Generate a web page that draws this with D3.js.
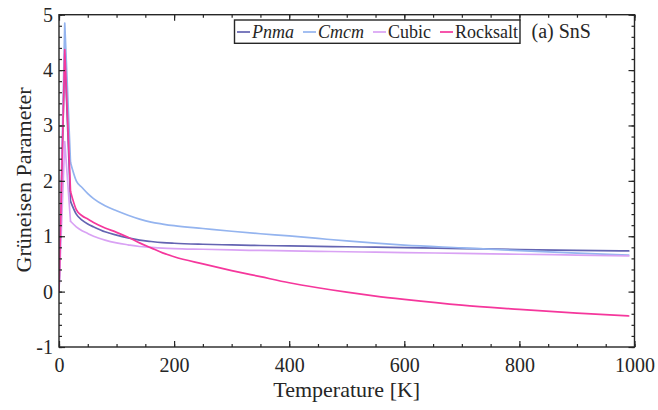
<!DOCTYPE html>
<html>
<head>
<meta charset="utf-8">
<script src="https://cdn.jsdelivr.net/npm/d3@7"></script>
<style>
  html, body { margin: 0; padding: 0; background: #fff; }
  svg { display: block; font-family: "Liberation Serif", "Times New Roman", serif; }
</style>
</head>
<body>
<svg id="chart" width="658" height="410"></svg>
<script>
// Temperatures (K) at which the Grüneisen parameter was evaluated
const temperatures = [0, 10, 20, 30, 40, 50, 60, 80, 100, 120, 140, 160, 180, 200,
                      250, 300, 350, 400, 450, 500, 550, 600, 700, 800, 900, 990];

// Grüneisen parameter for each SnS phase
const pnma     = [0, 4.30, 1.63, 1.40, 1.29, 1.22, 1.17, 1.08, 1.02, 0.97, 0.93, 0.905, 0.885, 0.873,
                  0.855, 0.843, 0.833, 0.825, 0.817, 0.81, 0.802, 0.795, 0.777, 0.76, 0.746, 0.735];
const cmcm     = [0, 4.85, 2.33, 2.00, 1.88, 1.77, 1.68, 1.55, 1.46, 1.38, 1.31, 1.255, 1.22, 1.19,
                  1.14, 1.09, 1.045, 1.005, 0.96, 0.915, 0.875, 0.84, 0.79, 0.74, 0.695, 0.66];
const cubic    = [0, 2.71, 1.27, 1.17, 1.10, 1.05, 1.00, 0.93, 0.88, 0.845, 0.815, 0.80, 0.787, 0.778,
                  0.765, 0.752, 0.743, 0.735, 0.728, 0.72, 0.712, 0.705, 0.69, 0.675, 0.66, 0.645];
const rocksalt = [0, 4.37, 1.81, 1.48, 1.37, 1.31, 1.25, 1.15, 1.07, 0.98, 0.88, 0.79, 0.70, 0.63,
                  0.50, 0.38, 0.27, 0.16, 0.07, -0.01, -0.08, -0.14, -0.245, -0.32, -0.39, -0.44];

const seriesNames  = ["Pnma", "Cmcm", "Cubic", "Rocksalt"];
const seriesItalic = [true, true, false, false];
const seriesColors = ["#6464b2", "#94b4ef", "#d9a2f4", "#f5379c"];

const xTicks = [0, 200, 400, 600, 800, 1000];
const yTicks = [-1, 0, 1, 2, 3, 4, 5];

const xLabel = "Temperature [K]";
const yLabel = "Grüneisen Parameter";
const panelLabel = "(a) SnS";

// ---- layout ----
const svg = d3.select("#chart");
const margin = { left: 59, right: 658 - 634.5, top: 14.7, bottom: 410 - 347 };
const W = 658, H = 410;
const x = d3.scaleLinear().domain([0, 1000]).range([margin.left, W - margin.right]);
const y = d3.scaleLinear().domain([-1, 5]).range([H - margin.bottom, margin.top]);
const ink = "#262626";

svg.append("defs").append("clipPath").attr("id", "plot-clip")
  .append("rect")
  .attr("x", x(0)).attr("y", y(5))
  .attr("width", x(1000) - x(0)).attr("height", y(-1) - y(5));

// ---- curves ----
const allSeries = [pnma, cmcm, cubic, rocksalt];
const linear = d3.line().x(d => x(d[0])).y(d => y(d[1])).curve(d3.curveLinear);
const smooth = d3.line().x(d => x(d[0])).y(d => y(d[1])).curve(d3.curveMonotoneX);

const plot = svg.append("g").attr("clip-path", "url(#plot-clip)");
allSeries.forEach((vals, i) => {
  const pts = temperatures.map((t, k) => [t, vals[k]]);
  const g = plot.append("g")
    .attr("fill", "none")
    .attr("stroke", seriesColors[i])
    .attr("stroke-width", 1.7)
    .attr("stroke-linejoin", "round")
    .attr("stroke-linecap", "round");
  // sharp low-temperature spike, then smooth high-temperature tail
  g.append("path").attr("d", linear(pts.slice(0, 3)));
  g.append("path").attr("d", smooth(pts.slice(2)));
});

// ---- axes (ticks point inward, box on all sides) ----
function styleAxis(g) {
  g.select(".domain").remove();
  g.selectAll(".tick line").attr("stroke", ink).attr("stroke-width", 1.2);
  g.selectAll(".tick text").attr("fill", ink).attr("font-size", 20)
    .attr("font-family", "Liberation Serif, Times New Roman, serif");
}
const xMinor = d3.range(0, 1001, 50);
const yMinor = d3.range(-1, 5.001, 0.2).map(v => +v.toFixed(2));
const fmt = d => String(d);

svg.append("g").attr("transform", `translate(0,${y(-1)})`)
  .call(d3.axisBottom(x).tickValues(xMinor).tickSize(-3).tickFormat("")).call(styleAxis);
svg.append("g").attr("transform", `translate(0,${y(-1)})`)
  .call(d3.axisBottom(x).tickValues(xTicks).tickSize(-6).tickPadding(11).tickFormat(fmt)).call(styleAxis);
svg.append("g").attr("transform", `translate(0,${y(5)})`)
  .call(d3.axisTop(x).tickValues(xMinor).tickSize(-3).tickFormat("")).call(styleAxis);
svg.append("g").attr("transform", `translate(0,${y(5)})`)
  .call(d3.axisTop(x).tickValues(xTicks).tickSize(-6).tickFormat("")).call(styleAxis);

svg.append("g").attr("transform", `translate(${x(0)},0)`)
  .call(d3.axisLeft(y).tickValues(yMinor).tickSize(-3).tickFormat("")).call(styleAxis);
svg.append("g").attr("transform", `translate(${x(0)},0)`)
  .call(d3.axisLeft(y).tickValues(yTicks).tickSize(-6).tickPadding(6).tickFormat(fmt)).call(styleAxis);
svg.append("g").attr("transform", `translate(${x(1000)},0)`)
  .call(d3.axisRight(y).tickValues(yMinor).tickSize(-3).tickFormat("")).call(styleAxis);
svg.append("g").attr("transform", `translate(${x(1000)},0)`)
  .call(d3.axisRight(y).tickValues(yTicks).tickSize(-6).tickFormat("")).call(styleAxis);

// frame
svg.append("rect")
  .attr("x", x(0)).attr("y", y(5))
  .attr("width", x(1000) - x(0)).attr("height", y(-1) - y(5))
  .attr("fill", "none").attr("stroke", ink).attr("stroke-width", 1.4);

// ---- axis titles ----
svg.append("text")
  .attr("x", (x(0) + x(1000)) / 2).attr("y", 397)
  .attr("text-anchor", "middle").attr("font-size", 22).attr("fill", ink)
  .text(xLabel);
svg.append("text")
  .attr("transform", `translate(31,${(y(5) + y(-1)) / 2 - 1}) rotate(-90)`)
  .attr("text-anchor", "middle").attr("font-size", 22).attr("fill", ink)
  .text(yLabel);

// ---- legend ----
const legend = svg.append("g");
const legendBox = legend.append("rect")
  .attr("fill", "#fff").attr("stroke", ink).attr("stroke-width", 1.4);
let cursor = 237;
const legY = 32;
seriesNames.forEach((name, i) => {
  legend.append("line")
    .attr("x1", cursor).attr("x2", cursor + 13)
    .attr("y1", legY).attr("y2", legY)
    .attr("stroke", seriesColors[i]).attr("stroke-width", 1.7);
  const t = legend.append("text")
    .attr("x", cursor + 15).attr("y", legY + 6)
    .attr("font-size", 18).attr("fill", ink)
    .attr("font-style", seriesItalic[i] ? "italic" : "normal")
    .text(name);
  cursor += 15 + t.node().getComputedTextLength() + 9;
});
legendBox.attr("x", 234.5).attr("y", 20)
  .attr("width", cursor - 9 + 2 - 234.5).attr("height", 23.3);

// panel label
svg.append("text")
  .attr("x", 531.5).attr("y", 38)
  .attr("font-size", 20).attr("fill", ink)
  .text(panelLabel);
</script>
</body>
</html>
